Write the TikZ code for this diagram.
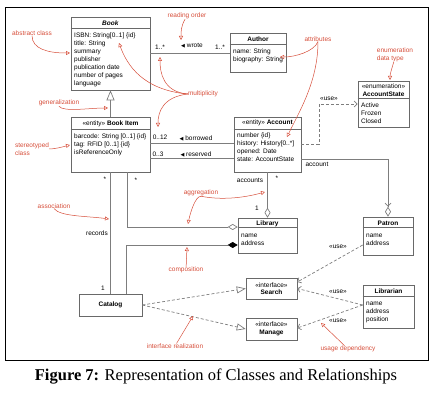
\documentclass[tikz,border=0pt]{standalone}
\usepackage{fontspec}
\setmainfont{Liberation Serif}
\newfontfamily\umlfont{Liberation Sans}
\newfontfamily\trifont{DejaVu Sans}
\usetikzlibrary{arrows.meta,positioning}
\definecolor{umlline}{RGB}{125,125,125}
\definecolor{umlbox}{RGB}{105,105,105}
\definecolor{notered}{RGB}{214,78,58}
\newcommand{\readdir}{{\trifont\fontsize{5}{5}\selectfont ◀}}

\begin{document}
\begin{tikzpicture}[x=1pt,y=-1pt,
    every node/.style={font=\umlfont\fontsize{6.5}{8}\selectfont, inner sep=0pt},
    classbox/.style={draw=umlbox, line width=0.6pt},
    hdr/.style={align=center},
    attrs/.style={anchor=north west, align=left},
    sep/.style={draw=umlbox, line width=0.6pt},
    assoc/.style={draw=umlline, line width=0.7pt},
    dep/.style={assoc, dash pattern=on 3pt off 2pt},
    note/.style={text=notered},
    notearrow/.style={draw=notered, line width=0.5pt, -{Triangle[open,length=4pt,width=4pt]}}]
    \useasboundingbox (0,0) rectangle (437,403);
    \draw [black, line width=0.8pt] (5,7) rectangle (428,360);
    % classes
    \node [classbox, minimum width=79pt, minimum height=73pt] (book) at (110.5,53.5) {};
    \draw [sep] ([yshift=-12pt]book.north west) -- ([yshift=-12pt]book.north east);
    \node [hdr] (booktitle) at (110.5,23) {\textbf{\textit{Book}}};
    \node [attrs] (bookattr) at (74,33) {ISBN: String[0..1] \{id\}\\title: String\\summary\\publisher\\publication date\\number of pages\\language};
    \node [classbox, minimum width=79pt, minimum height=55pt] (bookitem) at (110.5,144.5) {};
    \draw [sep] ([yshift=-13pt]bookitem.north west) -- ([yshift=-13pt]bookitem.north east);
    \node [hdr] (bookitemtitle) at (110.5,123.5) {«entity» \textbf{Book Item}};
    \node [attrs] (bookitemattr) at (74,134) {barcode: String [0..1] \{id\}\\tag: RFID [0..1] \{id\}\\isReferenceOnly};
    \node [classbox, minimum width=56pt, minimum height=39pt] (author) at (258,52.5) {};
    \draw [sep] ([yshift=-12pt]author.north west) -- ([yshift=-12pt]author.north east);
    \node [hdr] (authortitle) at (258,39.5) {\textbf{Author}};
    \node [attrs] (authorattr) at (233,49) {name: String\\biography: String};
    \node [classbox, minimum width=51pt, minimum height=46pt] (accountstate) at (383.5,104) {};
    \draw [sep] ([yshift=-18pt]accountstate.north west) -- ([yshift=-18pt]accountstate.north east);
    \node [hdr] (accountstatetitle) at (383.5,90) {«enumeration»\\\textbf{AccountState}};
    \node [attrs] (accountstateattr) at (361,103) {Active\\Frozen\\Closed};
    \node [classbox, minimum width=67pt, minimum height=55pt] (account) at (267.5,144.5) {};
    \draw [sep] ([yshift=-12.5pt]account.north west) -- ([yshift=-12.5pt]account.north east);
    \node [hdr] (accounttitle) at (267.5,123) {«entity» \textbf{Account}};
    \node [attrs] (accountattr) at (237,133) {number \{id\}\\history: History[0..*]\\opened: Date\\state: AccountState};
    \node [classbox, minimum width=59pt, minimum height=35pt] (library) at (267.5,235.5) {};
    \draw [sep] ([yshift=-10pt]library.north west) -- ([yshift=-10pt]library.north east);
    \node [hdr] (librarytitle) at (267.5,223.5) {\textbf{Library}};
    \node [attrs] (libraryattr) at (241,234) {name\\address};
    \node [classbox, minimum width=50pt, minimum height=38pt] (patron) at (388,236) {};
    \draw [sep] ([yshift=-11pt]patron.north west) -- ([yshift=-11pt]patron.north east);
    \node [hdr] (patrontitle) at (388,223) {\textbf{Patron}};
    \node [attrs] (patronattr) at (366,234) {name\\address};
    \node [classbox, minimum width=63pt, minimum height=22pt] (catalog) at (110.5,305) {\textbf{Catalog}};
    \node [classbox, minimum width=51pt, minimum height=21pt, align=center, font=\umlfont\fontsize{6.5}{7.5}\selectfont] (search) at (271.5,288.5) {«interface»\\\textbf{Search}};
    \node [classbox, minimum width=51pt, minimum height=22pt, align=center, font=\umlfont\fontsize{6.5}{7.5}\selectfont] (manage) at (271.5,329) {«interface»\\\textbf{Manage}};
    \node [classbox, minimum width=51pt, minimum height=43pt] (librarian) at (388.5,306.5) {};
    \draw [sep] ([yshift=-12pt]librarian.north west) -- ([yshift=-12pt]librarian.north east);
    \node [hdr] (librariantitle) at (388.5,291) {\textbf{Librarian}};
    \node [attrs] (librarianattr) at (366,302) {name\\address\\position};
    % relationships
    \draw [assoc] (book.east) -- (book.east -| author.west);
    \node (wrotem1) at (160,47) {1..*};
    \node (wrote) at (192,46) {\readdir\ wrote};
    \node (wrotem2) at (220,47) {1..*};
    \draw [assoc, -{Triangle[open,length=10pt,width=8pt]}] (bookitem.north) -- (book.south);
    \draw [assoc] ([yshift=1.5pt]bookitem.east) -- ([yshift=1.5pt]bookitem.east -| account.west);
    \node (borrowedm) at (160,137) {0..12};
    \node (borrowed) at (196,138) {\readdir\ borrowed};
    \draw [assoc] ([yshift=-13.5pt]bookitem.east) -- ([yshift=-13.5pt]bookitem.east -| account.west);
    \node (reservedm) at (158,154) {0..3};
    \node (reserved) at (196,154) {\readdir\ reserved};
    \draw [assoc, -{Straight Barb[length=3pt,width=6pt] Diamond[open,length=10pt,width=6pt]}] ([yshift=-14.5pt]account.east) -| (patron.north);
    \node (accountlab) at (317,164) {account};
    \coordinate (usebend) at (319,104);
    \draw [dep, -{Straight Barb[length=3pt,width=6pt]}] (account.east) -| (usebend) -- (accountstate.west);
    \node (usestate) at (329,99) {«use»};
    \draw [assoc, -{Diamond[open,length=10pt,width=6pt]}] (account.south) -- (library.north);
    \node (accountslab) at (250,180) {accounts};
    \node (accountsm) at (277,178) {*};
    \node (librarym) at (257,208) {1};
    \draw [assoc, -{Diamond[open,length=10pt,width=6pt]}] ([xshift=16.5pt]bookitem.south) |- ([yshift=8.5pt]library.west);
    \node (aggm) at (136,180) {*};
    \draw [assoc, -{Diamond[fill=black,color=black,length=10pt,width=6pt]}] ([xshift=15.5pt]catalog.north) |- ([yshift=-9.5pt]library.west);
    \draw [assoc] (bookitem.south) -- (catalog.north);
    \node (recordsm) at (105,179) {*};
    \node (recordslab) at (97,233) {records};
    \node (catalogm) at (103,288) {1};
    \draw [dep, -{Triangle[open,length=9pt,width=7pt]}] (catalog.east) -- (search.west);
    \draw [dep, -{Triangle[open,length=9pt,width=7pt]}] (catalog.east) -- (manage.west);
    \draw [dep, -{Straight Barb[length=3pt,width=6pt]}] ([yshift=-9pt]patron.west) -- ([yshift=6.5pt]search.east);
    \node (usepatron) at (338,247) {«use»};
    \draw [dep, -{Straight Barb[length=3pt,width=6pt]}] ([yshift=1.5pt]librarian.west) -- (search.east);
    \node (usesearch) at (338,292) {«use»};
    \draw [dep, -{Straight Barb[length=3pt,width=6pt]}] ([yshift=1.5pt]librarian.west) -- ([yshift=1pt]manage.east);
    \node (usemanage) at (338,321) {«use»};
    % notes
    \node [note] (absnote) at (32,33) {abstract class};
    \coordinate (abstip) at (70,53);
    \draw [notearrow] (absnote) .. controls +(0,16) and +(-22,0) .. (abstip);
    \node [note] (readnote) at (187,16) {reading order};
    \coordinate (readtip) at (181,40);
    \draw [notearrow] (readnote) .. controls +(-6,10) and +(0,-8) .. (readtip);
    \node [note] (multnote) at (203,94) {multiplicity};
    \coordinate (multtip1) at (119,43);
    \coordinate (multtip2) at (160,57);
    \coordinate (multtip3) at (158,127);
    \draw [notearrow] (multnote.west) .. controls +(-45,-4) and +(8,22) .. (multtip1);
    \draw [notearrow] (multnote.west) .. controls +(-25,-2) and +(0,15) .. (multtip2);
    \draw [notearrow] (multnote.west) .. controls +(-25,3) and +(0,-15) .. (multtip3);
    \node [note] (attrnote) at (318,39) {attributes};
    \coordinate (attrtip1) at (280,57);
    \coordinate (attrtip2) at (287,137);
    \draw [notearrow] (attrnote.south) .. controls +(-4,10) and +(15,0) .. (attrtip1);
    \draw [notearrow] (attrnote.south) .. controls +(0,40) and +(12,-25) .. (attrtip2);
    \node [note, align=left] (enumnote) at (395,55) {enumeration\\data type};
    \coordinate (enumtip) at (390,80);
    \draw [notearrow] (enumnote) .. controls +(-1,6) and +(0,-6) .. (enumtip);
    \node [note] (gennote) at (59,103) {generalization};
    \coordinate (gentip) at (108,108);
    \draw [notearrow] (gennote.south) .. controls +(4,6) and +(-18,0) .. (gentip);
    \node [note, align=left] (sternote) at (32,149) {stereotyped\\class};
    \coordinate (stertip) at (70,145);
    \draw [notearrow] (sternote.east) .. controls +(6,0) and +(-8,2) .. (stertip);
    \node [note] (assocnote) at (54,206) {association};
    \coordinate (assoctip) at (109,219);
    \draw [notearrow] (assocnote.south) .. controls +(6,8) and +(-22,-3) .. (assoctip);
    \node [note] (aggnote) at (201,193) {aggregation};
    \coordinate (aggtip1) at (188,224);
    \coordinate (aggtip2) at (265,192);
    \draw [notearrow] (aggnote.south) .. controls +(-6,0) and +(2,-10) .. (aggtip1);
    \draw [notearrow] (aggnote.south) .. controls +(20,4) and +(-22,6) .. (aggtip2);
    \node [note] (compnote) at (186,270) {composition};
    \coordinate (comptip) at (187,247);
    \draw [notearrow] (compnote) -- (comptip);
    \node [note] (realnote) at (175,346) {interface realization};
    \coordinate (realtip) at (193,316);
    \draw [notearrow] (realnote) -- (realtip);
    \node [note] (usagenote) at (348,349) {usage dependency};
    \coordinate (usagetip) at (321,323);
    \draw [notearrow] (usagenote) -- (usagetip);
    % caption
    \node [font=\rmfamily\fontsize{16.5}{18}\selectfont] (caption) at (216,377) {\textbf{Figure 7:} Representation of Classes and Relationships};
\end{tikzpicture}
\end{document}
